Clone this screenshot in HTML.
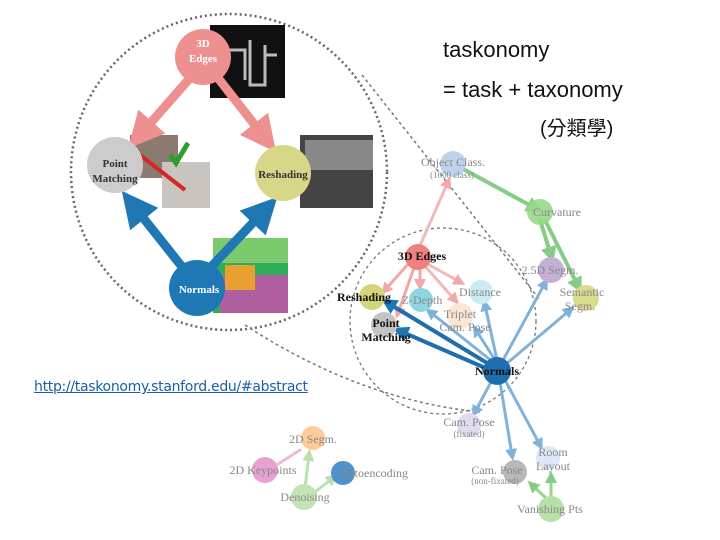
<!DOCTYPE html>
<html><head><meta charset="utf-8"><style>
body{margin:0;width:720px;height:540px;background:#fff;overflow:hidden;position:relative;font-family:"Liberation Sans","Noto Sans CJK TC",sans-serif}
.t{position:absolute;font-size:22px;color:#111}
a{position:absolute;left:34px;top:379px;font-size:14px;color:#1a5fa8;text-decoration:underline;font-family:"DejaVu Sans",sans-serif;letter-spacing:-0.3px}
svg{position:absolute;left:0;top:0}
</style></head><body>
<svg width="720" height="540" font-family="Liberation Serif,serif">
<defs>
<marker id="ap" markerWidth="4" markerHeight="4" refX="2" refY="2" orient="auto"><path d="M0,0L4,2L0,4z" fill="#ef9090"/></marker>
<marker id="ab" markerWidth="4" markerHeight="4" refX="2" refY="2" orient="auto"><path d="M0,0L4,2L0,4z" fill="#1f77b4"/></marker>
<marker id="lb" markerWidth="4" markerHeight="4" refX="2" refY="2" orient="auto"><path d="M0,0L4,2L0,4z" fill="#7fb3db"/></marker>
<marker id="lp" markerWidth="4" markerHeight="4" refX="2" refY="2" orient="auto"><path d="M0,0L4,2L0,4z" fill="#f3a8a8"/></marker>
<marker id="lg" markerWidth="4" markerHeight="4" refX="2" refY="2" orient="auto"><path d="M0,0L4,2L0,4z" fill="#85cc85"/></marker>
<marker id="lgg" markerWidth="4" markerHeight="4" refX="2" refY="2" orient="auto"><path d="M0,0L4,2L0,4z" fill="#b8e0b0"/></marker>
</defs>
<!-- big dotted circle -->
<circle cx="229" cy="172" r="158" fill="none" stroke="#666" stroke-width="2.5" stroke-dasharray="2 3"/>
<path d="M362,75 L540,300" stroke="#777" stroke-width="1.5" stroke-dasharray="3 3" fill="none"/>
<path d="M245,325 Q360,400 480,412" stroke="#777" stroke-width="1.5" stroke-dasharray="3 3" fill="none"/>
<circle cx="443" cy="321" r="93" fill="none" stroke="#777" stroke-width="1.3" stroke-dasharray="3 3"/>
<!-- images -->
<rect x="210" y="25" width="75" height="73" fill="#111"/>
<path d="M225,50h20v30M250,40v45h15v-40M265,55h12" stroke="#bbb" stroke-width="3" fill="none"/>
<rect x="130" y="135" width="48" height="43" fill="#8a7a70"/>
<rect x="162" y="162" width="48" height="46" fill="#c9c4c0"/>
<rect x="300" y="135" width="73" height="73" fill="#444"/>
<rect x="305" y="140" width="68" height="30" fill="#888"/>
<rect x="213" y="238" width="75" height="75" fill="#2fae5a"/>
<rect x="213" y="238" width="75" height="25" fill="#7dc96e"/>
<rect x="220" y="275" width="68" height="38" fill="#b05fa0"/>
<rect x="225" y="265" width="30" height="25" fill="#e8a030"/>
<!-- big arrows -->
<g stroke-width="9" fill="none">
<line x1="190" y1="78" x2="140" y2="135" stroke="#ef9090" marker-end="url(#ap)"/>
<line x1="218" y1="78" x2="265" y2="138" stroke="#ef9090" marker-end="url(#ap)"/>
<line x1="183" y1="268" x2="133" y2="205" stroke="#1f77b4" marker-end="url(#ab)"/>
<line x1="210" y1="268" x2="265" y2="210" stroke="#1f77b4" marker-end="url(#ab)"/>
</g>
<line x1="140" y1="155" x2="185" y2="190" stroke="#d62728" stroke-width="4"/>
<path d="M170,155l6,8l12,-20" stroke="#2ca02c" stroke-width="5" fill="none"/>
<circle cx="203" cy="57" r="28" fill="#ef9090"/>
<circle cx="115" cy="165" r="28" fill="#cccccc"/>
<circle cx="283" cy="173" r="28" fill="#d7d78a"/>
<circle cx="197" cy="288" r="28" fill="#1f77b4"/>
<g font-weight="bold" font-size="11" text-anchor="middle">
<text x="203" y="47" fill="#fff">3D</text><text x="203" y="62" fill="#fff">Edges</text>
<text x="115" y="167" fill="#333">Point</text><text x="115" y="182" fill="#333">Matching</text>
<text x="283" y="178" fill="#333">Reshading</text>
<text x="199" y="293" fill="#fff">Normals</text>
</g>
<!-- small graph edges -->
<g stroke-width="3" fill="none" stroke-linecap="round">
<line x1="418" y1="250" x2="448" y2="182" stroke="#f3b8b8" marker-end="url(#lp)"/>
<line x1="465" y1="170" x2="535" y2="208" stroke="#85cc85" marker-end="url(#lg)" stroke-width="4"/>
<line x1="540" y1="220" x2="551" y2="255" stroke="#85cc85" marker-end="url(#lg)" stroke-width="4"/>
<line x1="545" y1="220" x2="578" y2="286" stroke="#85cc85" marker-end="url(#lg)" stroke-width="4"/>
<line x1="410" y1="262" x2="385" y2="290" stroke="#f3a8a8" marker-end="url(#lp)"/>
<line x1="415" y1="265" x2="398" y2="313" stroke="#f3a8a8" marker-end="url(#lp)"/>
<line x1="420" y1="265" x2="420" y2="285" stroke="#f3a8a8" marker-end="url(#lp)"/>
<line x1="424" y1="262" x2="460" y2="282" stroke="#f3b8b8" marker-end="url(#lp)"/>
<line x1="424" y1="265" x2="455" y2="300" stroke="#f3b8b8" marker-end="url(#lp)"/>
<line x1="492" y1="366" x2="388" y2="303" stroke="#1f6fb0" stroke-width="4" marker-end="url(#ab)"/>
<line x1="490" y1="370" x2="400" y2="331" stroke="#1f6fb0" stroke-width="4" marker-end="url(#ab)"/>
<line x1="493" y1="362" x2="430" y2="312" stroke="#7fb3db" marker-end="url(#lb)"/>
<line x1="495" y1="360" x2="476" y2="330" stroke="#7fb3db" marker-end="url(#lb)"/>
<line x1="497" y1="360" x2="485" y2="305" stroke="#7fb3db" marker-end="url(#lb)"/>
<line x1="502" y1="362" x2="545" y2="283" stroke="#7fb3db" marker-end="url(#lb)"/>
<line x1="505" y1="365" x2="570" y2="310" stroke="#7fb3db" marker-end="url(#lb)"/>
<line x1="492" y1="380" x2="475" y2="412" stroke="#7fb3db" marker-end="url(#lb)"/>
<line x1="500" y1="382" x2="512" y2="455" stroke="#7fb3db" marker-end="url(#lb)"/>
<line x1="505" y1="380" x2="540" y2="445" stroke="#7fb3db" marker-end="url(#lb)"/>
<line x1="548" y1="500" x2="532" y2="485" stroke="#9bd48b" marker-end="url(#lg)"/>
<line x1="551" y1="500" x2="551" y2="477" stroke="#9bd48b" marker-end="url(#lg)"/>
<line x1="275" y1="466" x2="300" y2="450" stroke="#f0b8d8"/>
<line x1="305" y1="488" x2="309" y2="455" stroke="#b8e0b0" marker-end="url(#lgg)"/>
<line x1="315" y1="492" x2="333" y2="478" stroke="#b8e0b0" marker-end="url(#lgg)"/>
</g>
<!-- small nodes -->
<g>
<circle cx="453" cy="164" r="13" fill="#aec7e8" opacity=".8"/>
<circle cx="540" cy="212" r="13" fill="#98d88a" opacity=".9"/>
<circle cx="551" cy="270" r="13" fill="#c5b0d5"/>
<circle cx="586" cy="298" r="13" fill="#dbdb8d"/>
<circle cx="418" cy="257" r="13" fill="#ef8080"/>
<circle cx="372" cy="297" r="13" fill="#d4d47a"/>
<circle cx="421" cy="300" r="12" fill="#8ed6e0"/>
<circle cx="481" cy="292" r="12" fill="#cdebf2"/>
<circle cx="460" cy="316" r="13" fill="#fbe5d4"/>
<circle cx="384" cy="325" r="13" fill="#c4c4c4"/>
<circle cx="497" cy="371" r="14" fill="#1f6fb0"/>
<circle cx="469" cy="425" r="12" fill="#e3daf0"/>
<circle cx="548" cy="458" r="12" fill="#dbe6f6"/>
<circle cx="515" cy="472" r="12" fill="#b8b8b8"/>
<circle cx="551" cy="509" r="13" fill="#b6e0a8"/>
<circle cx="313" cy="438" r="12" fill="#ffcc99"/>
<circle cx="265" cy="470" r="13" fill="#e7a2cf"/>
<circle cx="343" cy="473" r="12" fill="#4e92c8"/>
<circle cx="304" cy="497" r="13" fill="#c4e4b8"/>
</g>
<g font-size="12" fill="#888" text-anchor="middle">
<text x="453" y="166">Object Class.</text>
<text x="452" y="178" font-size="9">(1000 class)</text>
<text x="557" y="216">Curvature</text>
<text x="550" y="274">2.5D Segm.</text>
<text x="582" y="296">Semantic</text>
<text x="580" y="310">Segm.</text>
<text x="480" y="296">Distance</text>
<text x="422" y="304">Z-Depth</text>
<text x="460" y="318">Triplet</text>
<text x="465" y="331">Cam. Pose</text>
<text x="469" y="426">Cam. Pose</text>
<text x="469" y="437" font-size="9">(fixated)</text>
<text x="553" y="456">Room</text>
<text x="553" y="470">Layout</text>
<text x="497" y="474">Cam. Pose</text>
<text x="495" y="484" font-size="9">(non-fixated)</text>
<text x="550" y="513">Vanishing Pts</text>
<text x="313" y="443">2D Segm.</text>
<text x="263" y="474">2D Keypoints</text>
<text x="374" y="477">Autoencoding</text>
<text x="305" y="501">Denoising</text>
</g>
<g font-size="12" font-weight="bold" fill="#111" text-anchor="middle">
<text x="422" y="260">3D Edges</text>
<text x="364" y="301">Reshading</text>
<text x="386" y="327">Point</text>
<text x="386" y="341">Matching</text>
<text x="497" y="375">Normals</text>
</g>
</svg>
<div class="t" style="left:443px;top:37px">taskonomy</div>
<div class="t" style="left:443px;top:77px">= task + taxonomy</div>
<div class="t" style="left:540px;top:112px;font-size:20px">(分類學)</div>
<a>http://taskonomy.stanford.edu/#abstract</a>
</body></html>
